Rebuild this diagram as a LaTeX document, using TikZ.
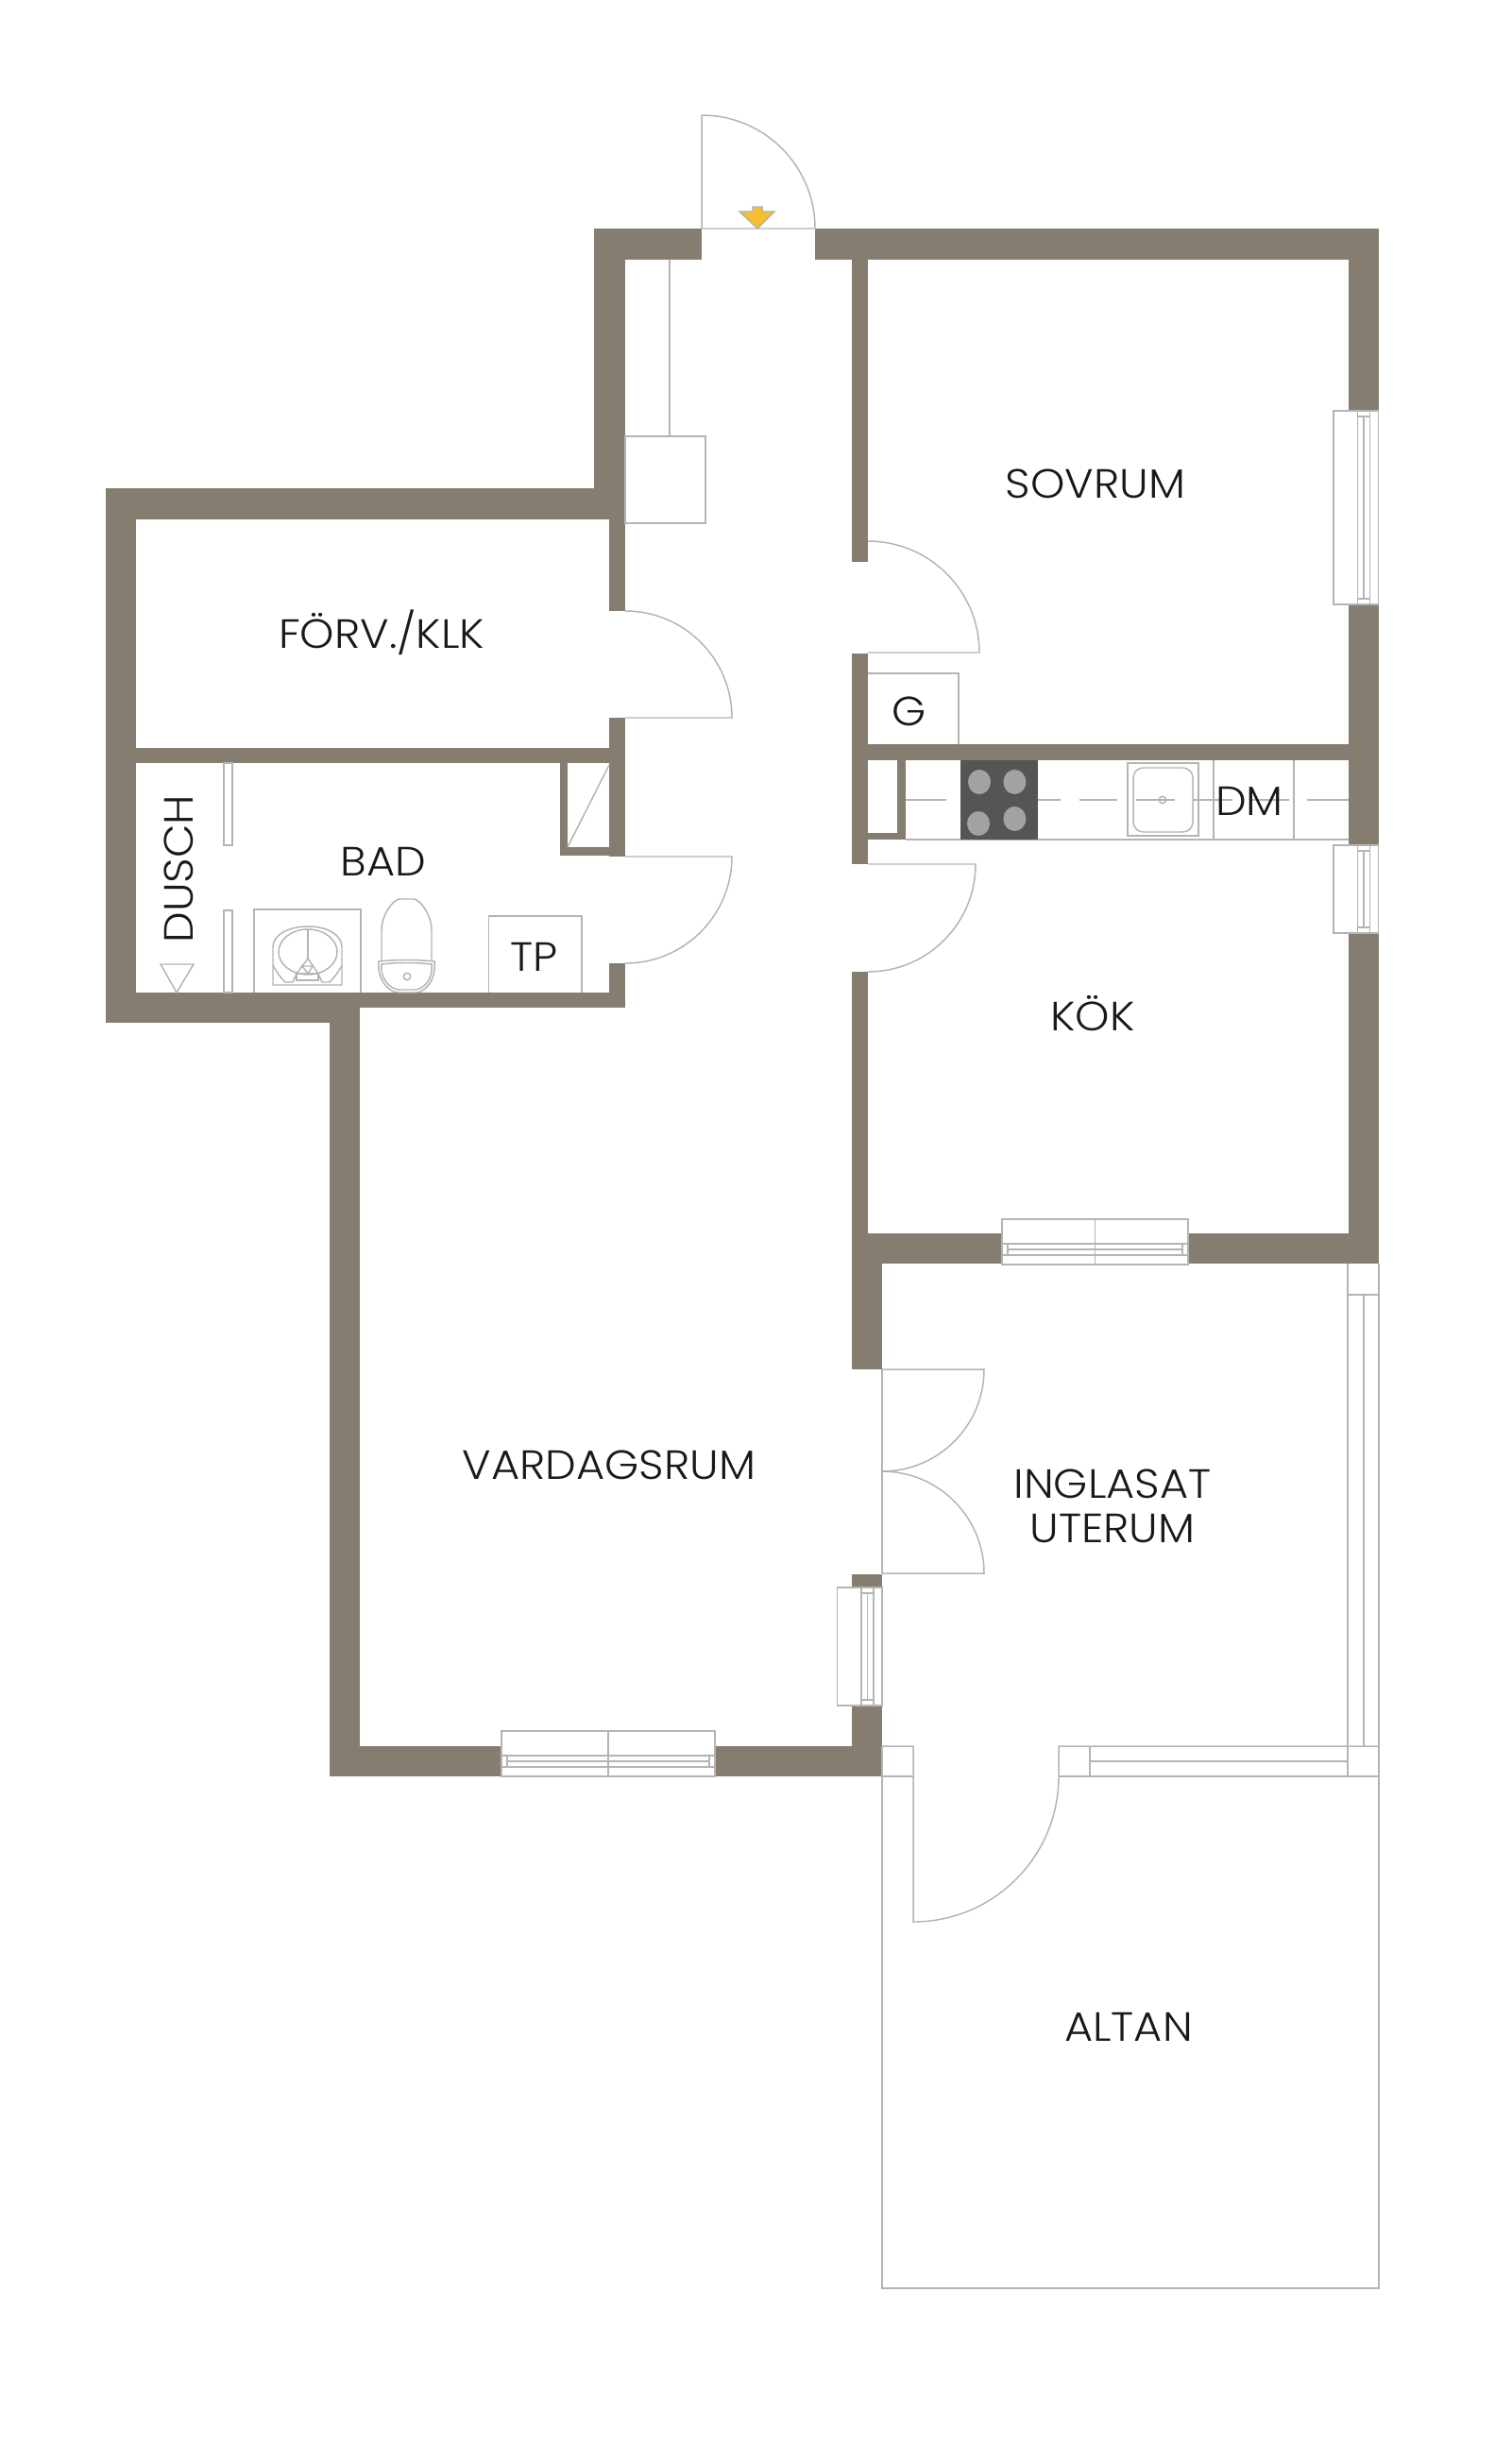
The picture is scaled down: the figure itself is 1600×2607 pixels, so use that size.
\documentclass[tikz,border=0pt]{standalone}
\usepackage{fontspec}
\setmainfont{Poppins}[UprightFont=* Light, FakeStretch=1.07]
\definecolor{wallcol}{HTML}{857D6F}
\definecolor{linecol}{HTML}{B4B4B4}
\definecolor{hobcol}{HTML}{555555}
\definecolor{ringcol}{HTML}{A2A2A2}
\definecolor{arrowcol}{HTML}{F6C02C}
\tikzset{
    wall/.style={fill=wallcol, draw=none},
    thinline/.style={draw=linecol, line width=0.42pt},
    room/.style={inner sep=0pt, align=center, text=black!90, font=\fontsize{12.3}{13.4}\selectfont},
}

\begin{document}
\begin{tikzpicture}[x=0.01cm, y=-0.01cm]
    \useasboundingbox (0,0) rectangle (1600,2607);
    \foreach \xa/\ya/\xb/\yb in {629/242/743/275, 863/242/1460/275, 629/242/662/517,
        902/275/919/595, 902/692/919/915, 902/1029/919/1306, 902/788/1460/805,
        1428/275/1460/435, 1428/640/1460/895, 1428/988/1460/1306,
        902/1306/1061/1338, 1258/1306/1460/1338, 902/1338/934/1450,
        111.5/517/662/550, 645/550/662/647, 645/760/662/907, 111.5/550/144/1083,
        144/792/645/808, 593/808/601/906, 601/897/645/906,
        144/1051/349/1083, 349/1051/380.5/1881, 380.5/1051/662/1067, 645/1020/662/1051,
        380.5/1849/531/1881, 757/1849/934/1881, 902/1806/934/1849, 902/1667/934/1681,
        950/805/958.5/889, 919/882/950/889}
        \fill[wall] (\xa,\ya) rectangle (\xb,\yb);

    \draw[thinline] (743,242) -- (743,122) arc (-90:0:120) -- cycle;
    \draw[thinline, fill=arrowcol] (797,219) -- (807,219) -- (807,224) -- (820,224) -- (802,242) -- (783,224) -- (797,224) -- cycle;
    \draw[thinline] (919,573) arc (-90:0:118) -- (919,691);
    \draw[thinline] (662,647) arc (-90:0:113) -- (662,760);
    \draw[thinline] (662,907) -- (775,907) arc (0:90:113);
    \draw[thinline] (919,915) -- (1033,915) arc (0:90:114);
    \draw[thinline] (934,1450) -- (1042,1450) arc (0:90:108);
    \draw[thinline] (934,1558) arc (-90:0:108) -- (934,1666);
    \draw[thinline] (934,1450) -- (934,1666);

    \draw[thinline] (709,275) -- (709,462);
    \draw[thinline] (662,462) rectangle (747,554);
    \draw[thinline] (919,713) -- (1015,713) -- (1015,788);

    \draw[thinline] (237,808) rectangle (246,895);
    \draw[thinline] (237,964) rectangle (246,1051);
    \draw[thinline] (170,1021) -- (205,1021) -- (187,1051) -- cycle;
    \draw[thinline] (601,897) -- (645,810);
    \draw[thinline] (517.5,1051) -- (517.5,970) -- (616,970) -- (616,1051);
    \draw[thinline] (269,1051) -- (269,963) -- (382,963) -- (382,1051);

    \draw[thinline] (289,1043) -- (289,1003) .. controls (289,990) and (305,981) .. (326,981) .. controls (347,981) and (362,990) .. (362,1003) -- (362,1043) -- cycle;
    \draw[thinline] (326,1008) ellipse (31 and 24);
    \draw[thinline] (326,984) -- (326,1015);
    \draw[thinline] (326,1015) -- (314,1031) -- (337,1031) -- cycle;
    \draw[thinline] (320,1023) -- (331,1023) -- (326,1031) -- cycle;
    \draw[thinline] (314,1031) rectangle (337,1038);
    \draw[thinline] (289,1022) .. controls (293,1030) and (298,1036) .. (302,1040) -- (310,1040) -- (314,1031);
    \draw[thinline] (362,1022) .. controls (358,1030) and (353,1036) .. (349,1040) -- (341,1040) -- (337,1031);

    \draw[thinline] (404,1018) -- (404,985) .. controls (404,968) and (417,952) .. (423,952) -- (438,952) .. controls (444,952) and (457,968) .. (457,985) -- (457,1018);
    \draw[thinline] (401,1018) .. controls (399,1038) and (412,1051) .. (422,1051) -- (440,1051) .. controls (450,1051) and (462,1038) .. (460,1018) .. controls (440,1016) and (420,1016) .. (401,1018) -- cycle;
    \draw[thinline] (404,1021) .. controls (402,1037) and (414,1048) .. (423,1048) -- (439,1048) .. controls (448,1048) and (459,1037) .. (457,1021) .. controls (440,1019) and (420,1019) .. (404,1021) -- cycle;
    \draw[thinline] (431,1034) circle (3.7);

    \draw[thinline] (958.5,889) -- (1428,889);
    \foreach \xa/\xb in {958.5/1002, 1098.5/1123, 1142.5/1183, 1203/1243.5, 1263/1305, 1324/1365, 1384/1428}
        \draw[thinline] (\xa,847) -- (\xb,847);
    \fill[hobcol] (1016.6,805) rectangle (1098.5,889);
    \foreach \bx/\by in {1037/828, 1074.4/828, 1036/872, 1074.4/867}
        \fill[ringcol] (\bx,\by) ellipse (12 and 13);
    \draw[thinline] (1194,808) rectangle (1269,885);
    \draw[thinline, rounded corners=3pt] (1200,813) rectangle (1263,881);
    \draw[thinline] (1231,847) circle (3.7);
    \draw[thinline] (1285,805) -- (1285,889);
    \draw[thinline] (1370,805) -- (1370,889);

    \foreach \wx/\wa/\wb in {1412/435/640, 1412/895/988, 886.5/1681/1806} {
        \draw[thinline] (\wx,\wa) rectangle (\wx+47.5,\wb);
        \draw[thinline] (\wx+25.5,\wa) -- (\wx+25.5,\wb);
        \draw[thinline] (\wx+38.5,\wa) -- (\wx+38.5,\wb);
        \draw[thinline] (\wx+25.5,\wa+6) -- (\wx+38.5,\wa+6);
        \draw[thinline] (\wx+25.5,\wb-6) -- (\wx+38.5,\wb-6);
        \draw[thinline] (\wx+32,\wa+6) -- (\wx+32,\wb-6);
    }
    \foreach \wa/\wb/\wy in {531/757/1833, 1061/1258/1291} {
        \draw[thinline] (\wa,\wy) rectangle (\wb,\wy+48);
        \draw[thinline] ({(\wa+\wb)/2},\wy) -- ({(\wa+\wb)/2},\wy+48);
        \draw[thinline] (\wa,\wy+26) -- (\wb,\wy+26);
        \draw[thinline] (\wa,\wy+38) -- (\wb,\wy+38);
        \draw[thinline] (\wa+6,\wy+32) -- (\wb-6,\wy+32);
        \draw[thinline] (\wa+6,\wy+26) -- (\wa+6,\wy+38);
        \draw[thinline] (\wb-6,\wy+26) -- (\wb-6,\wy+38);
    }

    \draw[thinline] (934,1849) -- (934,2423) -- (1460,2423) -- (1460,1338);
    \draw[thinline] (1427,1338) -- (1427,1881);
    \draw[thinline] (1444,1371) -- (1444,1849);
    \draw[thinline] (1427,1371) -- (1460,1371);
    \draw[thinline] (934,1849) -- (967,1849) -- (967,2035) arc (90:0:154) -- (1121,1849) -- (1460,1849);
    \draw[thinline] (934,1881) -- (967,1881);
    \draw[thinline] (1121,1881) -- (1460,1881);
    \draw[thinline] (1154,1849) -- (1154,1881);
    \draw[thinline] (1154,1865) -- (1427,1865);

    \node[room] (sovrum) at (1160,512) {SOVRUM};
    \node[room] (forrad) at (404,670) {FÖRV./KLK};
    \node[room] (bad) at (406,912) {BAD};
    \node[room, rotate=90] (dusch) at (189,920) {DUSCH};
    \node[room] (tp) at (566,1013) {TP};
    \node[room] (garderob) at (963,753) {G};
    \node[room] (dm) at (1323,848) {DM};
    \node[room] (kok) at (1157,1073) {KÖK};
    \node[room] (vardagsrum) at (645,1551) {VARDAGSRUM};
    \node[room] (uterum) at (1178,1595) {INGLASAT\\UTERUM};
    \node[room] (altan) at (1195,2146) {ALTAN};
\end{tikzpicture}
\end{document}
